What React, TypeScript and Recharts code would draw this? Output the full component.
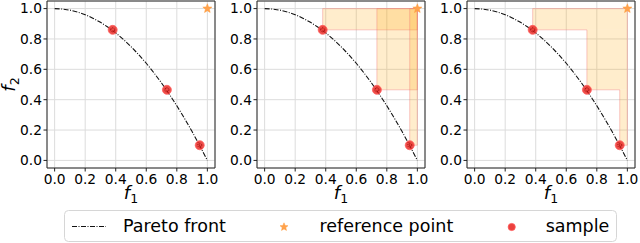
import React from "react";
import {
  ScatterChart,
  Scatter,
  XAxis,
  YAxis,
  CartesianGrid,
  ReferenceArea,
} from "recharts";

// Pareto front
const FRONT_F1 = [0, 0.05, 0.1, 0.15, 0.2, 0.25, 0.3, 0.35, 0.4, 0.45, 0.5, 0.55, 0.6, 0.65, 0.7, 0.75, 0.8, 0.85, 0.9, 0.95, 1.0];
const FRONT_F2 = [1.0, 0.997, 0.99, 0.977, 0.96, 0.937, 0.91, 0.877, 0.84, 0.797, 0.75, 0.697, 0.64, 0.577, 0.51, 0.437, 0.36, 0.277, 0.19, 0.097, 0.0];

// samples
const SAMPLE_F1 = [0.38, 0.735, 0.95];
const SAMPLE_F2 = [0.86, 0.465, 0.1];

// reference point
const REF_F1 = [1.0];
const REF_F2 = [1.0];

const TICKS = [0, 0.2, 0.4, 0.6, 0.8, 1.0];
const DOMAIN: [number, number] = [-0.05, 1.05];

const FONT = "'DejaVu Sans', sans-serif";
const ORANGE = "#ffa500";
const PINK = "#f07878";

// layout of one panel (pixels inside its chart)
const PLOT_LEFT = 47;
const PLOT_W = 168;
const PLOT_TOP = 1;
const PLOT_H = 167;
const CHART_H = 208;

const frontData = FRONT_F1.map((x, i) => ({ x, y: FRONT_F2[i] }));
const sampleData = SAMPLE_F1.map((x, i) => ({ x, y: SAMPLE_F2[i] }));
const refData = REF_F1.map((x, i) => ({ x, y: REF_F2[i] }));

// staircase outline of the dominated region (built from the samples)
const stairData = (() => {
  const pts: { x: number; y: number }[] = [];
  const rx = REF_F1[0];
  const ry = REF_F2[0];
  pts.push({ x: SAMPLE_F1[0], y: ry });
  for (let i = 0; i < SAMPLE_F1.length; i++) {
    pts.push({ x: SAMPLE_F1[i], y: SAMPLE_F2[i] });
    const nx = i + 1 < SAMPLE_F1.length ? SAMPLE_F1[i + 1] : rx;
    pts.push({ x: nx, y: SAMPLE_F2[i] });
  }
  pts.push({ x: rx, y: ry });
  pts.push({ x: SAMPLE_F1[0], y: ry });
  return pts;
})();

const Empty = () => <g />;

const SampleShape = (props: any) => {
  const { cx, cy } = props;
  return (
    <g>
      <circle cx={cx} cy={cy} r={4.5} fill="#e8201c" fillOpacity={0.8} stroke="#ff6060" strokeWidth={0.8} />
      <circle cx={cx} cy={cy} r={2} fill="none" stroke="#8a0000" strokeWidth={0.8} strokeDasharray="1 1" />
    </g>
  );
};

const starPoints = (cx: number, cy: number, ro: number, ri: number) => {
  const pts: string[] = [];
  for (let k = 0; k < 10; k++) {
    const r = k % 2 === 0 ? ro : ri;
    const a = -Math.PI / 2 + (k * Math.PI) / 5;
    pts.push(`${cx + r * Math.cos(a)},${cy + r * Math.sin(a)}`);
  }
  return pts.join(" ");
};

const StarShape = (props: any) => {
  const { cx, cy } = props;
  return <polygon points={starPoints(cx, cy, 4.8, 2.1)} fill="#ffa24c" stroke="#ff9a3c" strokeWidth={0.5} />;
};

const F1Label = () => {
  const cx = PLOT_LEFT + PLOT_W / 2;
  const y = PLOT_TOP + PLOT_H + 31;
  return (
    <text x={cx} y={y} textAnchor="middle" fontFamily={FONT} fontSize={18} fill="#000">
      <tspan fontStyle="italic">f</tspan>
      <tspan fontSize={12.5} dy={4}>1</tspan>
    </text>
  );
};

const F2Label = () => {
  const x = 14.5;
  const y = PLOT_TOP + PLOT_H / 2;
  return (
    <text transform={`translate(${x},${y}) rotate(-90)`} textAnchor="middle" fontFamily={FONT} fontSize={18} fill="#000">
      <tspan fontStyle="italic">f</tspan>
      <tspan fontSize={12.5} dy={4}>2</tspan>
    </text>
  );
};

const tickStyle = { fontSize: 13.8, fill: "#000", fontFamily: FONT };
const fmt = (v: number) => v.toFixed(1);

type Variant = "none" | "rects" | "union";

function Panel({ variant, left, yLabel }: { variant: Variant; left: number; yLabel: boolean }) {
  const rx = REF_F1[0];
  const ry = REF_F2[0];
  const width = PLOT_LEFT + PLOT_W + 10;
  return (
    <div style={{ position: "absolute", left, top: 0 }}>
      <ScatterChart width={width} height={CHART_H} margin={{ top: PLOT_TOP, right: 10, left: 0, bottom: 0 }}>
        <CartesianGrid stroke="#dcdcdc" strokeWidth={1} />
        <XAxis
          type="number"
          dataKey="x"
          domain={DOMAIN}
          ticks={TICKS}
          interval={0}
          allowDataOverflow
          tickFormatter={fmt}
          height={CHART_H - PLOT_TOP - PLOT_H}
          tickSize={3.5}
          tickMargin={2.5}
          axisLine={false}
          tickLine={{ stroke: "#222" }}
          tick={tickStyle}
          label={{ content: F1Label }}
        />
        <YAxis
          type="number"
          dataKey="y"
          domain={DOMAIN}
          ticks={TICKS}
          interval={0}
          allowDataOverflow
          tickFormatter={fmt}
          width={PLOT_LEFT}
          tickSize={3.5}
          tickMargin={1.5}
          axisLine={false}
          tickLine={{ stroke: "#222" }}
          tick={tickStyle}
          label={yLabel ? { content: F2Label } : undefined}
        />
        {variant === "rects" &&
          SAMPLE_F1.map((x, i) => (
            <ReferenceArea
              key={`r${i}`}
              x1={x}
              x2={rx}
              y1={SAMPLE_F2[i]}
              y2={ry}
              fill={ORANGE}
              fillOpacity={0.2}
              stroke={PINK}
              strokeOpacity={0.4}
              strokeWidth={1}
            />
          ))}
        {variant === "union" &&
          SAMPLE_F1.map((x, i) => (
            <ReferenceArea
              key={`u${i}`}
              x1={x}
              x2={rx}
              y1={SAMPLE_F2[i]}
              y2={i === 0 ? ry : SAMPLE_F2[i - 1]}
              fill={ORANGE}
              fillOpacity={0.2}
              stroke="none"
            />
          ))}
        {variant === "union" && (
          <Scatter
            data={stairData}
            isAnimationActive={false}
            shape={Empty}
            line={{ stroke: PINK, strokeOpacity: 0.4, strokeWidth: 1 }}
            lineType="joint"
          />
        )}
        <Scatter
          data={frontData}
          isAnimationActive={false}
          shape={Empty}
          line={{ stroke: "#111", strokeWidth: 1.1, strokeDasharray: "5 1.5 1 1.5" }}
          lineType="joint"
        />
        <Scatter data={sampleData} isAnimationActive={false} shape={SampleShape} />
        <Scatter data={refData} isAnimationActive={false} shape={StarShape} />
        <ReferenceArea x1={DOMAIN[0]} x2={DOMAIN[1]} y1={DOMAIN[0]} y2={DOMAIN[1]} fill="none" stroke="#262626" strokeWidth={1} />
      </ScatterChart>
    </div>
  );
}

function Legend() {
  return (
    <svg width={554} height={33} style={{ position: "absolute", left: 64, top: 210 }}>
      <rect x={0.5} y={0.5} width={552} height={31} rx={4} ry={4} fill="#fff" stroke="#d6d6d6" strokeWidth={1} />
      <line x1={8} y1={16.5} x2={42} y2={16.5} stroke="#111" strokeWidth={1.1} strokeDasharray="5 1.5 1 1.5" />
      <text x={59} y={22.3} fontFamily={FONT} fontSize={17.5} fill="#000">Pareto front</text>
      <polygon points={starPoints(220, 17, 4.2, 1.9)} fill="#ffa24c" stroke="#ff9a3c" strokeWidth={0.5} />
      <text x={255.5} y={22.3} fontFamily={FONT} fontSize={17.5} fill="#000">reference point</text>
      <circle cx={447.7} cy={17} r={3.6} fill="#e8201c" fillOpacity={0.85} stroke="#ff5a5a" strokeWidth={0.8} />
      <text x={481.7} y={22.3} fontFamily={FONT} fontSize={17.5} fill="#000">sample</text>
    </svg>
  );
}

export default function App() {
  return (
    <div style={{ position: "absolute", left: 0, top: 0, width: 640, height: 243, background: "#fff", overflow: "hidden" }}>
      <Panel variant="none" left={0} yLabel={true} />
      <Panel variant="rects" left={210} yLabel={false} />
      <Panel variant="union" left={420} yLabel={false} />
      <Legend />
    </div>
  );
}
